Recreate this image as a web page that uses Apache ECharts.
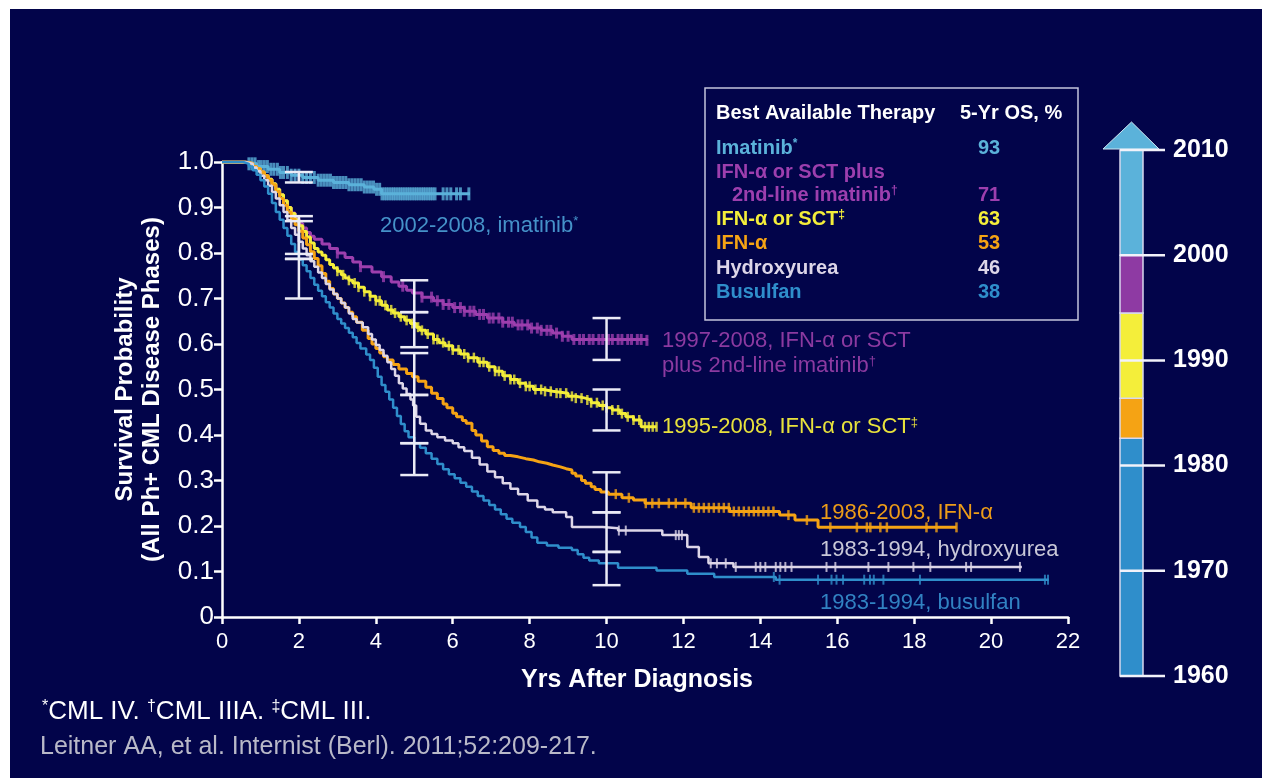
<!DOCTYPE html>
<html>
<head>
<meta charset="utf-8">
<title>Overall survival in CML by therapy era</title>
<script src="https://cdn.jsdelivr.net/npm/echarts@6/dist/echarts.min.js"></script>
<style>
  html, body { margin: 0; padding: 0; background: #ffffff; }
  #chart { width: 1262px; height: 778px; }
</style>
</head>
<body>
<div id="chart"></div>
<script>
// ---- Kaplan-Meier curves: [years after diagnosis, survival probability] ----
const imatinibCurve = [[0,1.0],[0.6,0.996],[0.9,0.99],[1.2,0.984],[1.5,0.977],[1.8,0.971],[2.1,0.966],[2.5,0.96],[2.9,0.955],[3.3,0.95],[3.7,0.945],[3.95,0.94],[4.15,0.93],[6.45,0.93]];
const purpleCurve = [[0,1.0],[0.6,0.997],[0.8,0.99],[0.9,0.985],[1.0,0.978],[1.1,0.97],[1.2,0.962],[1.3,0.952],[1.4,0.94],[1.5,0.928],[1.6,0.915],[1.7,0.9],[1.8,0.888],[1.9,0.876],[2.0,0.865],[2.1,0.855],[2.2,0.845],[2.3,0.837],[2.4,0.83],[2.6,0.82],[2.8,0.81],[3.0,0.8],[3.2,0.79],[3.4,0.78],[3.6,0.77],[3.9,0.758],[4.15,0.748],[4.4,0.736],[4.6,0.727],[4.8,0.718],[4.95,0.712],[5.2,0.703],[5.5,0.695],[5.75,0.687],[6.0,0.68],[6.3,0.672],[6.6,0.665],[6.9,0.657],[7.3,0.648],[7.6,0.642],[8.0,0.635],[8.3,0.63],[8.6,0.624],[8.85,0.617],[9.1,0.61],[11.05,0.608]];
const yellowCurve = [[0,1.0],[0.6,0.997],[0.8,0.99],[0.9,0.985],[1.0,0.978],[1.1,0.97],[1.2,0.962],[1.3,0.952],[1.4,0.94],[1.5,0.928],[1.6,0.915],[1.7,0.9],[1.8,0.887],[1.9,0.873],[2.0,0.86],[2.1,0.847],[2.2,0.835],[2.3,0.822],[2.4,0.81],[2.5,0.802],[2.6,0.795],[2.7,0.785],[2.8,0.775],[2.9,0.767],[3.0,0.76],[3.1,0.752],[3.2,0.745],[3.3,0.74],[3.4,0.734],[3.55,0.725],[3.7,0.715],[3.85,0.705],[4.0,0.695],[4.15,0.685],[4.3,0.675],[4.45,0.668],[4.6,0.66],[4.75,0.652],[4.9,0.645],[5.05,0.637],[5.15,0.63],[5.3,0.622],[5.5,0.61],[5.65,0.603],[5.8,0.596],[6.0,0.587],[6.2,0.578],[6.4,0.57],[6.65,0.56],[6.9,0.55],[7.1,0.54],[7.3,0.53],[7.5,0.522],[7.7,0.514],[7.9,0.507],[8.1,0.5],[8.35,0.496],[8.6,0.492],[9.0,0.485],[9.2,0.481],[9.45,0.477],[9.6,0.471],[9.8,0.465],[10.0,0.46],[10.15,0.455],[10.35,0.447],[10.5,0.44],[10.7,0.433],[10.9,0.418],[11.3,0.418]];
const orangeCurve = [[0,1.0],[0.6,0.997],[0.8,0.99],[0.9,0.985],[1.0,0.978],[1.1,0.97],[1.2,0.96],[1.3,0.95],[1.4,0.935],[1.5,0.92],[1.6,0.905],[1.7,0.89],[1.8,0.875],[1.9,0.862],[2.0,0.848],[2.1,0.833],[2.2,0.818],[2.3,0.803],[2.4,0.788],[2.5,0.772],[2.6,0.755],[2.7,0.738],[2.8,0.722],[2.9,0.71],[3.0,0.7],[3.1,0.69],[3.2,0.68],[3.3,0.67],[3.4,0.66],[3.5,0.648],[3.65,0.63],[3.8,0.612],[3.9,0.6],[4.0,0.59],[4.1,0.58],[4.2,0.572],[4.3,0.565],[4.45,0.555],[4.6,0.545],[4.8,0.535],[4.95,0.528],[5.1,0.518],[5.3,0.505],[5.45,0.492],[5.6,0.48],[5.75,0.468],[5.85,0.46],[6.0,0.448],[6.1,0.44],[6.25,0.432],[6.35,0.426],[6.5,0.41],[6.6,0.4],[6.75,0.387],[6.9,0.374],[7.05,0.366],[7.2,0.36],[7.35,0.355],[7.5,0.352],[7.7,0.348],[7.9,0.345],[8.1,0.341],[8.25,0.338],[8.45,0.334],[8.6,0.33],[8.8,0.326],[8.95,0.323],[9.1,0.316],[9.2,0.31],[9.35,0.3],[9.45,0.294],[9.6,0.286],[9.7,0.28],[9.85,0.275],[10.05,0.27],[10.4,0.262],[10.7,0.257],[11.0,0.25],[12.2,0.24],[13.2,0.232],[14.5,0.224],[14.9,0.213],[15.5,0.197],[19.1,0.197]];
const hydroxyCurve = [[0,1.0],[0.6,0.996],[0.8,0.988],[0.9,0.98],[1.0,0.97],[1.1,0.96],[1.2,0.948],[1.3,0.934],[1.4,0.92],[1.5,0.905],[1.6,0.89],[1.7,0.872],[1.8,0.855],[1.9,0.84],[2.0,0.825],[2.1,0.81],[2.2,0.795],[2.3,0.782],[2.4,0.77],[2.5,0.757],[2.6,0.745],[2.7,0.732],[2.8,0.72],[2.9,0.71],[3.0,0.7],[3.1,0.69],[3.2,0.68],[3.3,0.667],[3.4,0.655],[3.5,0.647],[3.66,0.637],[3.8,0.622],[3.9,0.61],[4.0,0.598],[4.1,0.587],[4.2,0.574],[4.3,0.56],[4.4,0.545],[4.5,0.53],[4.6,0.514],[4.7,0.502],[4.8,0.49],[4.9,0.478],[4.97,0.465],[5.05,0.44],[5.15,0.425],[5.3,0.41],[5.45,0.402],[5.6,0.395],[5.8,0.388],[6.0,0.382],[6.15,0.373],[6.3,0.365],[6.5,0.35],[6.7,0.335],[6.9,0.32],[7.1,0.307],[7.3,0.294],[7.5,0.282],[7.7,0.27],[7.95,0.256],[8.2,0.242],[8.4,0.236],[8.6,0.23],[8.95,0.22],[9.1,0.198],[9.9,0.195],[10.3,0.19],[11.45,0.18],[12.1,0.154],[12.4,0.132],[12.65,0.118],[13.3,0.11],[20.8,0.11]];
const busulfanCurve = [[0,1.0],[0.55,0.996],[0.7,0.99],[0.8,0.982],[0.9,0.972],[1.0,0.96],[1.1,0.946],[1.2,0.93],[1.3,0.91],[1.4,0.89],[1.5,0.873],[1.6,0.855],[1.7,0.838],[1.8,0.82],[1.9,0.802],[2.0,0.785],[2.1,0.773],[2.2,0.76],[2.3,0.745],[2.4,0.73],[2.5,0.717],[2.6,0.705],[2.7,0.692],[2.8,0.68],[2.9,0.667],[3.0,0.655],[3.1,0.645],[3.2,0.635],[3.3,0.625],[3.4,0.615],[3.5,0.602],[3.6,0.59],[3.75,0.577],[3.85,0.565],[3.95,0.548],[4.05,0.528],[4.15,0.51],[4.25,0.495],[4.35,0.478],[4.45,0.46],[4.55,0.442],[4.65,0.424],[4.75,0.408],[4.85,0.395],[5.0,0.382],[5.15,0.372],[5.3,0.36],[5.45,0.348],[5.6,0.336],[5.75,0.325],[5.9,0.314],[6.05,0.305],[6.2,0.295],[6.35,0.286],[6.5,0.276],[6.65,0.266],[6.8,0.256],[6.95,0.246],[7.1,0.236],[7.25,0.226],[7.4,0.216],[7.55,0.207],[7.75,0.198],[7.9,0.187],[8.05,0.175],[8.2,0.163],[8.45,0.157],[8.75,0.152],[9.1,0.147],[9.25,0.138],[9.4,0.13],[9.55,0.124],[9.8,0.118],[10.3,0.108],[11.3,0.102],[12.1,0.095],[12.8,0.088],[14.4,0.082],[21.5,0.082]];

// ---- Censoring times (years) per curve ----
const imatinibCensor = [0.7,0.78,0.86,0.95,1.02,1.1,1.18,1.27,1.35,1.44,1.52,1.6,1.7,1.8,1.9,2.0,2.1,2.2,2.3,2.4,2.5,2.58,2.66,2.74,2.82,2.9,2.98,3.06,3.14,3.22,3.3,3.38,3.46,3.54,3.62,3.7,3.78,3.86,3.94,4.02,4.1,4.16,4.22,4.28,4.34,4.4,4.46,4.52,4.58,4.64,4.7,4.76,4.82,4.88,4.94,5.0,5.06,5.12,5.18,5.24,5.3,5.36,5.42,5.48,5.54,5.75,5.85,5.95,6.1,6.2,6.42];
const purpleCensor = [3.0,3.6,4.2,4.7,5.2,5.45,5.6,5.75,5.9,6.05,6.2,6.3,6.45,6.55,6.7,6.8,6.95,7.05,7.2,7.3,7.45,7.55,7.7,7.8,7.95,8.05,8.2,8.3,8.45,8.55,8.7,8.85,9.0,9.15,9.3,9.4,9.55,9.65,9.8,9.9,10.05,10.15,10.3,10.4,10.55,10.65,10.8,10.9,11.05];
const yellowCensor = [3.0,3.15,3.3,3.45,3.55,3.7,3.85,4.0,4.1,4.25,4.4,4.5,4.65,4.8,4.95,5.1,5.2,5.35,5.5,5.6,5.75,5.9,6.0,6.15,6.3,6.4,6.55,6.7,6.8,6.95,7.1,7.2,7.35,7.5,7.6,7.75,7.9,8.0,8.15,8.3,8.4,8.55,8.7,8.8,8.95,9.1,9.2,9.35,9.5,9.6,9.75,9.9,10.0,10.15,10.3,10.4,10.55,10.7,10.85,11.0,11.1,11.2,11.3];
const orangeCensor = [10.24,10.58,11.02,11.19,11.36,11.62,11.8,12.05,12.27,12.4,12.53,12.66,12.79,12.92,13.05,13.18,13.31,13.44,13.57,13.7,13.83,13.95,14.08,14.21,14.34,14.73,15.21,15.82,16.51,16.77,16.86,17.12,17.29,18.32,18.58,19.1];
const hydroxyCensor = [10.32,10.5,11.8,11.88,11.96,12.71,12.87,13.1,13.36,13.88,14.0,14.13,14.4,14.52,14.65,14.81,15.72,15.95,16.81,17.33,17.98,18.42,19.35,19.48,20.75];
const busulfanCensor = [14.35,14.5,15.5,15.85,15.98,16.15,16.7,16.85,16.95,17.2,18.15,21.4,21.48];

// ---- 95% confidence bars: [year, lower, upper] ----
const ciBars = [
  [2,0.955,0.978],[2,0.798,0.881],[2,0.787,0.87],[2,0.70,0.787],
  [5,0.67,0.74],[5,0.593,0.67],[5,0.488,0.58],[5,0.382,0.488],[5,0.312,0.382],
  [10,0.565,0.657],[10,0.41,0.5],[10,0.23,0.318],[10,0.143,0.23],[10,0.07,0.143]
];

// ---- Axis ticks ----
const yTicks = [0,0.1,0.2,0.3,0.4,0.5,0.6,0.7,0.8,0.9,1.0];
const xTicks = [0,2,4,6,8,10,12,14,16,18,20,22];

// ---- Therapy timeline (years) ----
const eraStart = [1960, 1982.6, 1986.4, 1994.5, 2000];
const eraEnd   = [1982.6, 1986.4, 1994.5, 2000, 2010];
const eraYears = [1960, 1970, 1980, 1990, 2000, 2010];

// ---- Summary table ----
const therapyNames = ['Imatinib', 'IFN-α or SCT plus', '2nd-line imatinib', 'IFN-α or SCT', 'IFN-α', 'Hydroxyurea', 'Busulfan'];
const therapyMarks = ['*', '', '†', '‡', '', '', ''];
const osFiveYear   = ['93', '', '71', '63', '53', '46', '38'];

const BG = '#02044a';
const C = {
  imatinib: '#5bb2da',
  purple: '#9d3fae',
  yellow: '#f4ee3a',
  orange: '#f5a314',
  hydroxy: '#ddd6e8',
  busulfan: '#2f8ecb',
  ci: '#ebebf6'
};
const FONT = '"Liberation Sans", Arial, sans-serif';
const NARROW = '"Liberation Sans Narrow", "Liberation Sans", Arial, sans-serif';

function stepValue(curve, t) {
  let v = curve[0][1];
  for (const p of curve) { if (p[0] <= t) v = p[1]; else break; }
  return v;
}
function censorPoints(curve, times) {
  return times.map(t => [t, stepValue(curve, t)]);
}

const curves = [
  { name: 'imatinib', data: imatinibCurve, censor: imatinibCensor, color: C.imatinib, w: 3, tick: [3, 13] },
  { name: 'purple', data: purpleCurve, censor: purpleCensor, color: C.purple, w: 3, tick: [3, 11] },
  { name: 'yellow', data: yellowCurve, censor: yellowCensor, color: C.yellow, w: 3, tick: [2.5, 10] },
  { name: 'orange', data: orangeCurve, censor: orangeCensor, color: C.orange, w: 3, tick: [2.5, 10] },
  { name: 'hydroxy', data: hydroxyCurve, censor: hydroxyCensor, color: C.hydroxy, w: 2.5, tick: [2, 10] },
  { name: 'busulfan', data: busulfanCurve, censor: busulfanCensor, color: C.busulfan, w: 2.5, tick: [2, 10] }
];

const series = [];
curves.forEach((c, i) => {
  series.push({
    type: 'line', name: c.name, step: 'end', data: c.data,
    showSymbol: false, animation: false, z: 3 + i,
    lineStyle: { color: c.color, width: c.w }
  });
  series.push({
    type: 'scatter', name: c.name + '-censor', data: censorPoints(c.data, c.censor),
    symbol: 'rect', symbolSize: c.tick, animation: false, z: 3 + i,
    itemStyle: { color: c.color }
  });
});

series.push({
  type: 'custom', name: 'ci', data: ciBars, z: 20, animation: false,
  renderItem: function (params, api) {
    const top = api.coord([api.value(0), api.value(2)]);
    const bot = api.coord([api.value(0), api.value(1)]);
    const hw = 14;
    const st = { stroke: C.ci, lineWidth: 2.5 };
    return {
      type: 'group',
      children: [
        { type: 'line', shape: { x1: top[0], y1: top[1], x2: bot[0], y2: bot[1] }, style: st },
        { type: 'line', shape: { x1: top[0] - hw, y1: top[1], x2: top[0] + hw, y2: top[1] }, style: st },
        { type: 'line', shape: { x1: bot[0] - hw, y1: bot[1], x2: bot[0] + hw, y2: bot[1] }, style: st }
      ]
    };
  }
});

// Timeline bar (second grid)
const eraColors = [C.busulfan, C.orange, C.yellow, '#8e3aa3', C.imatinib];
series.push({
  type: 'custom', name: 'era', xAxisIndex: 1, yAxisIndex: 1, animation: false, clip: false, z: 2,
  data: eraStart.map((s, i) => [s, eraEnd[i], i]),
  renderItem: function (params, api) {
    const p0 = api.coord([0, api.value(1)]);
    const p1 = api.coord([1, api.value(0)]);
    const idx = api.value(2);
    const children = [{
      type: 'rect',
      shape: { x: p0[0], y: p0[1], width: p1[0] - p0[0], height: p1[1] - p0[1] },
      style: { fill: eraColors[idx], stroke: '#d8d8ee', lineWidth: 1.5 }
    }];
    if (api.value(1) >= 2010) {
      const cx = (p0[0] + p1[0]) / 2;
      children.push({
        type: 'polygon',
        shape: { points: [[p0[0] - 17, p0[1] - 1], [p1[0] + 16, p0[1] - 1], [cx, p0[1] - 28]] },
        style: { fill: C.imatinib, stroke: '#cfe6f2', lineWidth: 1 }
      });
    }
    return { type: 'group', children: children };
  }
});
// Decade lines: across the bar and out towards the year labels
series.push({
  type: 'custom', name: 'decades', xAxisIndex: 1, yAxisIndex: 1, animation: false, clip: false, z: 4,
  data: eraYears.map(y => [y]),
  renderItem: function (params, api) {
    const a = api.coord([0, api.value(0)]);
    const b = api.coord([1, api.value(0)]);
    return {
      type: 'line',
      shape: { x1: a[0], y1: a[1], x2: b[0] + 22, y2: b[1] },
      style: { stroke: '#f2f2fa', lineWidth: 2.5 }
    };
  }
});

function supText(main, mark, color, size, weight) {
  return {
    text: '{m|' + main + '}' + (mark ? '{s|' + mark + '}' : ''),
    rich: {
      m: { fill: color, fontSize: size, fontWeight: weight, fontFamily: FONT },
      s: { fill: color, fontSize: Math.round(size * 0.6), fontWeight: weight, fontFamily: FONT, verticalAlign: 'top' }
    }
  };
}

const graphics = [
  { type: 'rect', shape: { x: 0, y: 0, width: 1262, height: 9 }, style: { fill: '#ffffff' }, silent: true },
  { type: 'rect', shape: { x: 0, y: 0, width: 10, height: 778 }, style: { fill: '#ffffff' }, silent: true },
  // table frame
  { type: 'rect', shape: { x: 705, y: 88, width: 373, height: 232 }, style: { fill: 'none', stroke: '#c4c4dc', lineWidth: 1.5 }, silent: true },
  { type: 'text', x: 716, y: 113, style: { text: 'Best Available Therapy', fill: '#ffffff', font: 'bold 20px ' + FONT, verticalAlign: 'middle' } },
  { type: 'text', x: 960, y: 113, style: { text: '5-Yr OS, %', fill: '#ffffff', font: 'bold 20px ' + FONT, verticalAlign: 'middle' } }
];
const rowY = [148, 172, 195, 219, 243, 268, 292];
const rowColor = [C.imatinib, C.purple, C.purple, C.yellow, C.orange, C.hydroxy, C.busulfan];
const rowX = [716, 716, 732, 716, 716, 716, 716];
therapyNames.forEach((n, i) => {
  graphics.push({ type: 'text', x: rowX[i], y: rowY[i], style: Object.assign(supText(n, therapyMarks[i], rowColor[i], 20, 'bold'), { verticalAlign: 'middle' }) });
  if (osFiveYear[i]) {
    graphics.push({ type: 'text', x: 989, y: rowY[i], style: { text: osFiveYear[i], fill: rowColor[i], font: 'bold 20px ' + FONT, align: 'center', verticalAlign: 'middle' } });
  }
});

// curve captions
const captions = [
  { x: 380, y: 226, main: '2002-2008, imatinib', mark: '*', color: '#4592c9' },
  { x: 662, y: 341, main: '1997-2008, IFN-α or SCT', mark: '', color: '#8c3aa0' },
  { x: 662, y: 366, main: 'plus 2nd-line imatinib', mark: '†', color: '#8c3aa0' },
  { x: 662, y: 427, main: '1995-2008, IFN-α or SCT', mark: '‡', color: '#e8e23c' },
  { x: 820, y: 513, main: '1986-2003, IFN-α', mark: '', color: '#ec9c18' },
  { x: 820, y: 550, main: '1983-1994, hydroxyurea', mark: '', color: '#c9c8d8' },
  { x: 820, y: 603, main: '1983-1994, busulfan', mark: '', color: '#3182c2' }
];
captions.forEach(c => {
  graphics.push({ type: 'text', x: c.x, y: c.y, z: 30, style: Object.assign(supText(c.main, c.mark, c.color, 22, 'normal'), { verticalAlign: 'middle' }) });
});

// footnotes
graphics.push({ type: 'text', x: 42, y: 712, style: {
  text: '{s|*}{m|CML IV. }{s|†}{m|CML IIIA. }{s|‡}{m|CML III.}', verticalAlign: 'middle',
  rich: {
    m: { fill: '#ffffff', fontSize: 26, fontFamily: FONT },
    s: { fill: '#ffffff', fontSize: 16, fontFamily: FONT, verticalAlign: 'top' }
  }
} });
graphics.push({ type: 'text', x: 40, y: 747, style: { text: 'Leitner AA, et al. Internist (Berl). 2011;52:209-217.', fill: '#b9b9c8', font: '25px ' + FONT, verticalAlign: 'middle' } });

const chart = echarts.init(document.getElementById('chart'), null, { renderer: 'canvas' });
chart.setOption({
  backgroundColor: BG,
  animation: false,
  grid: [
    { left: 222, right: 194, top: 162, bottom: 161 },
    { left: 1120, width: 23, top: 150, bottom: 102 }
  ],
  xAxis: [
    {
      type: 'value', min: 0, max: 22, interval: 2, offset: 7,
      name: 'Yrs After Diagnosis', nameLocation: 'middle', nameGap: 44,
      nameTextStyle: { color: '#ffffff', fontSize: 25, fontWeight: 'bold', fontFamily: NARROW, padding: [0, 16, 0, 0] },
      axisLine: { show: true, lineStyle: { color: '#ffffff', width: 2.5 } },
      axisTick: { show: true, length: 7, lineStyle: { color: '#ffffff', width: 2.5 } },
      axisLabel: { color: '#ffffff', fontSize: 22, fontFamily: NARROW, margin: 7 },
      splitLine: { show: false }
    },
    { gridIndex: 1, type: 'value', min: 0, max: 1, show: false }
  ],
  yAxis: [
    {
      type: 'value', min: 0, max: 1, interval: 0.1, offset: 5,
      name: 'Survival Probability\n(All Ph+ CML Disease Phases)', nameLocation: 'middle', nameGap: 51, nameRotate: 90,
      nameTextStyle: { color: '#ffffff', fontSize: 24, fontWeight: 'bold', fontFamily: FONT, lineHeight: 27 },
      axisLine: { show: true, lineStyle: { color: '#ffffff', width: 2.5 } },
      axisTick: { show: true, length: 8, lineStyle: { color: '#ffffff', width: 2.5 } },
      axisLabel: { color: '#ffffff', fontSize: 26, fontFamily: FONT, margin: 3,
        formatter: v => (v === 0 ? '0' : v.toFixed(1)) },
      splitLine: { show: false }
    },
    {
      gridIndex: 1, type: 'value', min: 1960, max: 2010, interval: 10, position: 'right',
      axisLine: { show: false },
      axisTick: { show: false },
      axisLabel: { color: '#ffffff', fontSize: 25, fontWeight: 'bold', fontFamily: FONT, margin: 30,
        formatter: v => String(v) },
      splitLine: { show: false }
    }
  ],
  series: series,
  graphic: graphics
});
</script>
</body>
</html>
